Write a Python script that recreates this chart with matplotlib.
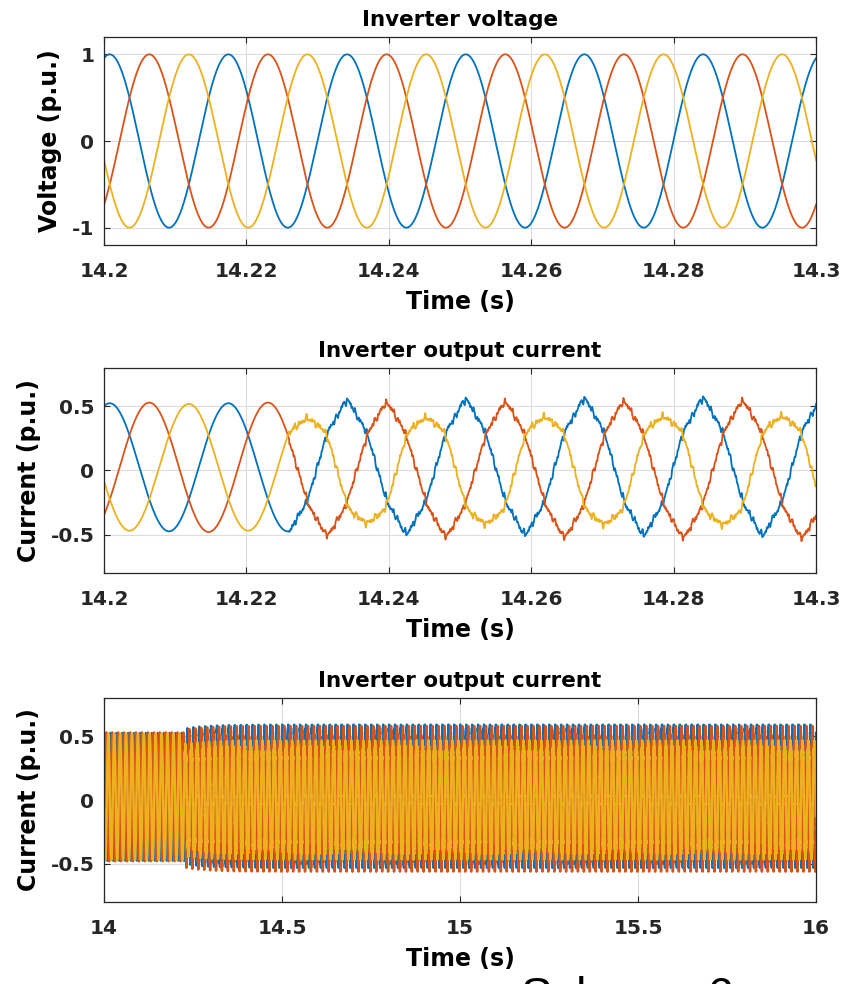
import numpy as np
import matplotlib.pyplot as plt

plt.rcParams['font.family'] = ['DejaVu Sans']
plt.rcParams['font.weight'] = 'bold'

# MATLAB default line colours: phase a, b, c
colors = ['#0072BD', '#D95319', '#EDB120']

# grid frequency and phase
f_grid = 60.0                 # Hz (6 cycles in 0.1 s)
t_peak_a = 14.2008            # time of a phase-a peak (s)
phase_deg = [0, -120, -240]   # a, b, c

# inverter voltage (p.u.)
v_amp = [1.0, 1.0, 1.0]

# inverter current, before / after the event
t_event = 14.226
i_amp_pre = [0.50, 0.505, 0.495]
i_off_pre = [0.025, 0.025, 0.025]
i_amp_post = [0.51, 0.51, 0.45]
i_off_post = [0.03, 0.01, 0.0]
rise_drop = 0.06              # post-event amplitude settles from ~94 %
rise_tau = 0.06               # s
harm_order = [3, 5, 7]
harm_amp_post = [[0.0, 0.02, 0.01],
                 [0.0, 0.015, 0.01],
                 [-0.04, 0.01, 0.008]]
ripple_order = [19, 31, 43, 61, 89]
ripple_amp = [0.012, 0.010, 0.008, 0.006, 0.005]

zoom_xlim = (14.2, 14.3)
zoom_xticks = [14.2, 14.22, 14.24, 14.26, 14.28, 14.3]
zoom_xlabels = ['14.2', '14.22', '14.24', '14.26', '14.28', '14.3']
long_xlim = (14.0, 16.0)
long_xticks = [14, 14.5, 15, 15.5, 16]
long_xlabels = ['14', '14.5', '15', '15.5', '16']


def angle(t, k):
    return 2 * np.pi * f_grid * (t - t_peak_a) + np.deg2rad(phase_deg[k])


def voltage(t, k):
    return v_amp[k] * np.cos(angle(t, k))


def current(t, k):
    th = angle(t, k)
    pre = i_off_pre[k] + i_amp_pre[k] * np.cos(th)
    gain = 1 - rise_drop * np.exp(-np.clip(t - t_event, 0, None) / rise_tau)
    post = i_amp_post[k] * np.cos(th)
    for n, a in zip(harm_order, harm_amp_post[k]):
        post = post + a * np.cos(n * th)
    post = i_off_post[k] + gain * post
    for j, (n, a) in enumerate(zip(ripple_order, ripple_amp)):
        post = post + a * np.sin(n * th + 1.3 * k + 0.7 * j)
    return np.where(t < t_event, pre, post)


t_zoom = np.arange(14.2, 14.3 + 1e-6, 1e-5)
t_long = np.arange(14.0, 16.0 + 1e-6, 2e-5)

fig = plt.figure(figsize=(8.41, 9.84), dpi=100)
left, width = 0.1237, 0.8466
ax1 = fig.add_axes([left, 0.751, width, 0.2114])
ax2 = fig.add_axes([left, 0.4177, width, 0.2083])
ax3 = fig.add_axes([left, 0.0833, width, 0.2073])

for k in range(3):
    ax1.plot(t_zoom, voltage(t_zoom, k), color=colors[k], lw=1.3)
    ax2.plot(t_zoom, current(t_zoom, k), color=colors[k], lw=1.3)
    ax3.plot(t_long, current(t_long, k), color=colors[k], lw=1.8)

setup = [
    (ax1, 'Inverter voltage', 'Voltage (p.u.)', zoom_xlim, zoom_xticks, zoom_xlabels,
     (-1.2, 1.2), [-1, 0, 1], ['-1', '0', '1']),
    (ax2, 'Inverter output current', 'Current (p.u.)', zoom_xlim, zoom_xticks, zoom_xlabels,
     (-0.8, 0.8), [-0.5, 0, 0.5], ['-0.5', '0', '0.5']),
    (ax3, 'Inverter output current', 'Current (p.u.)', long_xlim, long_xticks, long_xlabels,
     (-0.8, 0.8), [-0.5, 0, 0.5], ['-0.5', '0', '0.5']),
]

for ax, title, ylab, xlim, xt, xl, ylim, yt, yl in setup:
    ax.set_xlim(*xlim)
    ax.set_ylim(*ylim)
    ax.set_xticks(xt)
    ax.set_xticklabels(xl)
    ax.set_yticks(yt)
    ax.set_yticklabels(yl)
    ax.grid(True, color='#dcdcdc', lw=0.8)
    ax.set_axisbelow(True)
    ax.tick_params(direction='in', length=4, width=0.8, labelsize=14.5,
                   colors='#262626', top=True, right=True)
    ax.tick_params(axis='x', pad=12)
    ax.tick_params(axis='y', pad=7)
    for s in ax.spines.values():
        s.set_color('#262626')
        s.set_linewidth(0.9)
    ax.set_title(title, fontsize=15.5, fontweight='bold', pad=8)
    ax.set_xlabel('Time (s)', fontsize=17, fontweight='bold', labelpad=7)
    ax.set_ylabel(ylab, fontsize=17, fontweight='bold', labelpad=7)

# caption partly cut off at the bottom edge of the source image
fig.text(0.619, -0.0265, 'Scheme 6', fontsize=34, fontweight='normal',
         family='Liberation Sans', ha='left', va='baseline', color='black')

fig.savefig('out.png', dpi=100)
